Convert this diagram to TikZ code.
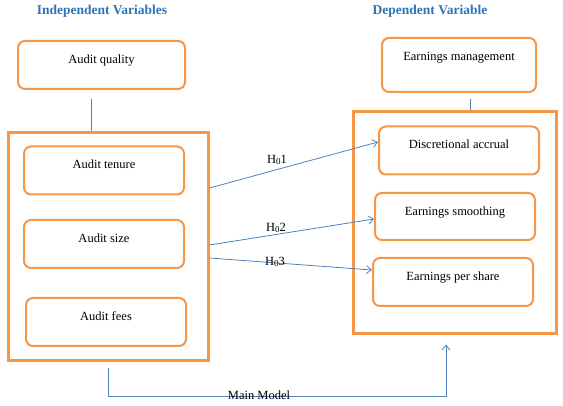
\documentclass[tikz,border=0pt]{standalone}
\usepackage{fontspec}
\setmainfont{Liberation Serif}
\usepackage{xcolor}
\usetikzlibrary{positioning,arrows.meta,calc}

\definecolor{boxorange}{HTML}{F79646}
\definecolor{linkblue}{HTML}{4F81BD}
\definecolor{titleblue}{HTML}{2E74B5}

\begin{document}
\begin{tikzpicture}[
    x=1pt, y=-1pt,
    varbox/.style={rectangle, rounded corners=7pt, draw=boxorange, line width=2pt, minimum width=160pt,
                   inner ysep=12pt, text height=10.5pt, text depth=13.5pt, align=center, font=\fontsize{12.5}{14}\selectfont},
    group/.style={rectangle, draw=boxorange, line width=3pt},
    heading/.style={font=\fontsize{13.5}{15}\selectfont\bfseries, text=titleblue},
    link/.style={draw=linkblue, line width=0.8pt},
    arrow/.style={link, -{Straight Barb[length=5pt,width=8pt]}},
    hyp/.style={font=\fontsize{12.5}{14}\selectfont, inner sep=1pt}
]
\useasboundingbox (0,0) rectangle (563,406);

% Headings
\node[heading] (indep) at (102,11) {Independent Variables};
\node[heading] (dep) at (430,11) {Dependent Variable};

% Group frames
\node[group, minimum width=200pt, minimum height=228pt] (leftgrp) at (108,247) {};
\node[group, minimum width=203pt, minimum height=222pt] (rightgrp) at (454.5,223) {};

% Variables
\node[varbox, minimum width=167pt] (auditq) at (101.5,65) {Audit quality};
\node[varbox] (tenure) at (104,170.5) {Audit tenure};
\node[varbox] (size) at (104,244) {Audit size};
\node[varbox] (fees) at (106,322) {Audit fees};

\node[varbox, minimum width=154pt, text depth=19.5pt] (earnmgmt) at (459,65) {Earnings management};
\node[varbox] (accrual) at (459,150.5) {Discretional accrual};
\node[varbox, text depth=12.5pt] (smooth) at (455,216.5) {Earnings smoothing};
\node[varbox] (eps) at (453,282) {Earnings per share};

% Links to the frames
\draw[link] ([shift={(-10pt,-9pt)}]auditq.south) coordinate (qtop) -- (qtop |- leftgrp.north);
\draw[link] ([shift={(11pt,-6pt)}]earnmgmt.south) coordinate (mtop) -- (mtop |- rightgrp.north);

% Hypotheses
\draw[arrow] ([yshift=59pt]leftgrp.east) -- ([yshift=8.5pt]accrual.west);
\draw[arrow] ([yshift=2pt]leftgrp.east) -- ([yshift=-2.5pt]smooth.west);
\draw[arrow] ([yshift=-11pt]leftgrp.east) -- ([yshift=12pt]eps.west);
\node[hyp] (h1) at (277,160) {H\raisebox{-0.3ex}{\small 0}1};
\node[hyp] (h2) at (276,228) {H\raisebox{-0.3ex}{\small 0}2};
\node[hyp] (h3) at (275,262) {H\raisebox{-0.3ex}{\small 0}3};

% Main model
\draw[arrow] ([yshift=-6pt]leftgrp.south) -- ++(0,28) coordinate (mbase)
    -| ([shift={(-8.5pt,-9pt)}]rightgrp.south);
\node[hyp] (mainm) at (259,395) {Main Model};

\end{tikzpicture}
\end{document}
